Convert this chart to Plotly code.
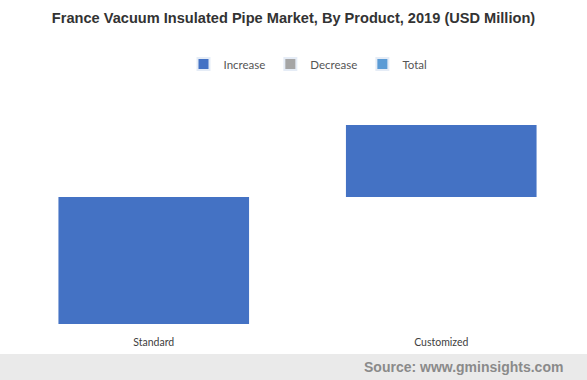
import plotly.graph_objects as go

categories = ["Standard", "Customized"]
values = [63.5, 36.0]
measures = ["relative", "relative"]
legend_names = ["Increase", "Decrease", "Total"]
legend_colors = ["#4472C4", "#A5A5A5", "#5B9BD5"]

fig = go.Figure()
fig.add_trace(go.Waterfall(
    x=categories, y=values, measure=measures,
    increasing=dict(marker=dict(color="#4472C4", line=dict(width=0))),
    decreasing=dict(marker=dict(color="#A5A5A5", line=dict(width=0))),
    totals=dict(marker=dict(color="#5B9BD5", line=dict(width=0))),
    connector=dict(visible=False),
    showlegend=False,
    hoverinfo="x+y",
))
for name, col in zip(legend_names, legend_colors):
    fig.add_trace(go.Bar(x=[None], y=[None], name=name, marker=dict(color=col),
                         showlegend=True))

fig.update_layout(
    width=587, height=380,
    margin=dict(l=10, r=2, t=110, b=56, autoexpand=False),
    paper_bgcolor="white", plot_bgcolor="white",
    waterfallgap=0.337,
    bargap=0.337,
    title=dict(text="<b>France Vacuum Insulated Pipe Market, By Product, 2019 (USD Million)</b>",
               x=0.5, xanchor="center", y=1 - 18 / 380, yanchor="middle",
               font=dict(family="Liberation Sans, Arial", size=14.6, color="#333333")),
    legend=dict(orientation="h", x=(308 - 10) / 575, xanchor="center", yref="container",
                y=1 - 64 / 380, yanchor="middle",
                font=dict(family="Lato, Open Sans", size=11.5, color="#555555"),
                itemsizing="constant", traceorder="normal", itemwidth=30),
    xaxis=dict(showgrid=False, zeroline=False, showline=False, ticks="",
               ticklabelstandoff=10,
               tickfont=dict(family="Lato, Open Sans", size=10.5, color="#404040"),
               range=[-0.5, 1.5]),
    yaxis=dict(visible=False, range=[0, 107]),
    shapes=[dict(type="rect", xref="paper", yref="paper",
                 x0=-12 / 575, x1=1 + 4 / 575, y0=(324 - 354) / 214, y1=(324 - 382) / 214,
                 fillcolor="#EAEAEA", line=dict(width=0), layer="below")],
    annotations=[dict(text="<b>Source: www.gminsights.com</b>", xref="paper", yref="paper",
                      x=(565 - 10) / 575, xanchor="right", y=(324 - 367) / 214, yanchor="middle",
                      showarrow=False,
                      font=dict(family="Liberation Sans, Arial", size=14, color="#8A8A8A"))],
)
fig.write_html("out.html", config={"displayModeBar": False},
               post_script="document.body.style.margin='0';document.body.style.padding='0';")
